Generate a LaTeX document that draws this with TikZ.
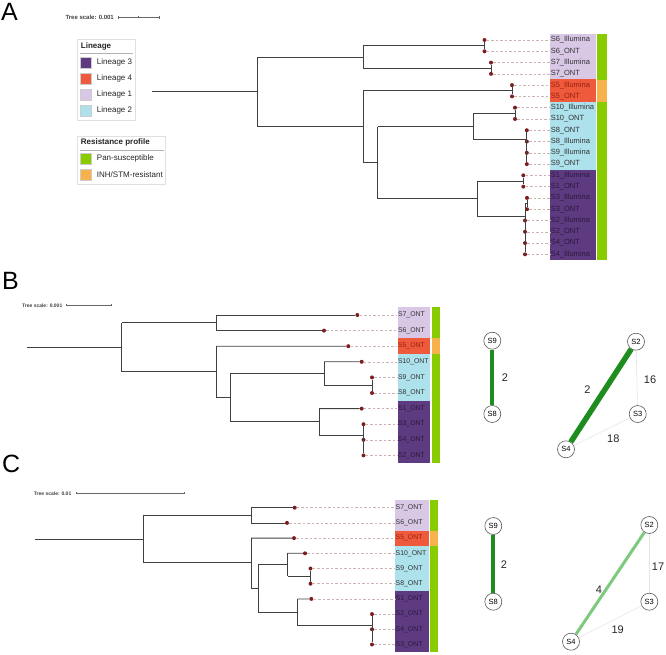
\documentclass[tikz,border=0pt]{standalone}
\usepackage{fontspec}
\setmainfont{Liberation Sans}
\usepackage{tikz}
\usetikzlibrary{positioning}

\definecolor{linone}{RGB}{216,200,230}
\definecolor{lintwo}{RGB}{173,225,236}
\definecolor{linthree}{RGB}{94,58,128}
\definecolor{linfour}{RGB}{240,90,60}
\definecolor{pansus}{RGB}{136,204,0}
\definecolor{inhres}{RGB}{248,178,76}
\definecolor{tipred}{RGB}{122,30,30}
\definecolor{darkgreen}{RGB}{30,140,30}
\definecolor{lightgreen}{RGB}{125,201,125}
\definecolor{dashgrey}{RGB}{205,178,178}
\definecolor{txtthree}{RGB}{45,25,62}
\definecolor{txtfour}{RGB}{150,32,15}

\tikzset{
  branch/.style={draw=black!75, line width=0.8pt},
  tip/.style={circle, fill=tipred, inner sep=0pt, minimum size=4pt},
  leader/.style={draw=dashgrey, line width=0.5pt, dash pattern=on 2.5pt off 2pt},
  leafA/.style={anchor=west, inner xsep=0.6pt, inner ysep=0pt, text width=44.5pt, minimum height=11.28pt, align=left, font=\fontsize{7.5}{8}\selectfont},
  leafB/.style={anchor=west, inner xsep=0.5pt, inner ysep=0pt, text width=31pt, minimum height=15.6pt, align=left, font=\fontsize{6.9}{7}\selectfont},
  leafC/.style={leafB, text width=32.3pt, minimum height=15.2pt},
  scaletxt/.style={anchor=east, inner sep=0pt, text=black!75, font=\bfseries},
  scalebar/.style={draw=black!60, line width=0.5pt},
  legbox/.style={draw=black!12, fill=white, line width=0.6pt},
  legtitle/.style={anchor=west, inner sep=0pt, text=black!85, font=\fontsize{8}{8}\selectfont\bfseries},
  swatch/.style={draw=black!20, line width=0.3pt, minimum size=11pt, inner sep=0pt},
  keytxt/.style={inner sep=0pt, text=black!85, font=\fontsize{8}{8}\selectfont},
  panel/.style={anchor=base west, inner sep=0pt, font=\fontsize{25}{25}\selectfont},
  gnode/.style={circle, draw=black!65, fill=white, line width=0.6pt, minimum size=17pt, inner sep=0pt, font=\fontsize{7.5}{8}\selectfont},
  elab/.style={inner sep=0pt, text=black!85, font=\fontsize{11}{11}\selectfont}
}

\begin{document}
\begin{tikzpicture}[x=1pt, y=-1pt]
\useasboundingbox (0,0) rectangle (666,654);

% panel A
\node[panel] (pa) at (1,20) {A};
\node[scaletxt, font=\fontsize{6}{6}\selectfont\bfseries] (sca) at (114,17.3) {Tree scale: 0.001};
\draw[scalebar] (118.3,17.3) -- (159,17.3);
\draw[scalebar] (118.3,16) -- (118.3,18.6) (138.6,16.3) -- (138.6,18.3) (159,16) -- (159,18.6);

\draw[legbox] (77.3,39.3) rectangle (135,120);
\node[legtitle] (hlin) at (80.7,46) {Lineage};
\draw[black!30, line width=0.6pt] (80,53.3) -- (133,53.3);
\node[swatch, fill=linthree] (k3) at (85.7,62.8) {};
\node[keytxt, right=5.4pt of k3] (k3t) {Lineage 3};
\node[swatch, fill=linfour] (k4) at (85.7,78.8) {};
\node[keytxt, right=5.4pt of k4] (k4t) {Lineage 4};
\node[swatch, fill=linone] (k1) at (85.7,94.6) {};
\node[keytxt, right=5.4pt of k1] (k1t) {Lineage 1};
\node[swatch, fill=lintwo] (k2) at (85.7,110.5) {};
\node[keytxt, right=5.4pt of k2] (k2t) {Lineage 2};

\draw[legbox] (77.3,136) rectangle (165.7,184.3);
\node[legtitle] (hres) at (80.7,142.8) {Resistance profile};
\draw[black!30, line width=0.6pt] (80,150) -- (163.5,150);
\node[swatch, fill=pansus] (kp) at (85.7,158.7) {};
\node[keytxt, right=5.4pt of kp] (kpt) {Pan-susceptible};
\node[swatch, fill=inhres] (ki) at (85.7,174.7) {};
\node[keytxt, right=5.4pt of ki] (kit) {INH/STM-resistant};

\fill[pansus] (596.7,34.36) rectangle (606.7,79.5);
\fill[inhres] (596.7,79.5) rectangle (606.7,102);
\fill[pansus] (596.7,102) rectangle (606.7,259.96);

\foreach \id/\tx/\r/\xx/\fc/\tc in {
  a6i/S6\_Illumina/0/484.5/linone/black!80,
  a6o/S6\_ONT/1/484.5/linone/black!80,
  a7i/S7\_Illumina/2/491/linone/black!80,
  a7o/S7\_ONT/3/491/linone/black!80,
  a5i/S5\_Illumina/4/512/linfour/txtfour,
  a5o/S5\_ONT/5/512/linfour/txtfour,
  a10i/S10\_Illumina/6/515/lintwo/black!80,
  a10o/S10\_ONT/7/515/lintwo/black!80,
  a8o/S8\_ONT/8/526.8/lintwo/black!80,
  a8i/S8\_Illumina/9/526.8/lintwo/black!80,
  a9i/S9\_Illumina/10/526.8/lintwo/black!80,
  a9o/S9\_ONT/11/526.8/lintwo/black!80,
  a1i/S1\_Illumina/12/523.3/linthree/txtthree,
  a1o/S1\_ONT/13/523.3/linthree/txtthree,
  a3i/S3\_Illumina/14/527/linthree/txtthree,
  a3o/S3\_ONT/15/527/linthree/txtthree,
  a2i/S2\_Illumina/16/525/linthree/txtthree,
  a2o/S2\_ONT/17/525/linthree/txtthree,
  a4o/S4\_ONT/18/525/linthree/txtthree,
  a4i/S4\_Illumina/19/525/linthree/txtthree}{
  \pgfmathsetmacro\yy{40+11.28*\r}
  \node[tip] (t\id) at (\xx,\yy) {};
  \node[leafA, fill=\fc, text=\tc] (l\id) at (550,\yy) {\mbox{\tx}};
  \draw[leader] (t\id) -- (l\id.west);
}

\draw[branch] (152,91.8) -- (257,91.8);
\draw[branch] (257,56.9) -- (257,126.7);
\draw[branch] (257,56.9) -- (363,56.9);
\draw[branch] (363,45.64) -- (363,68.2);
\draw[branch] (363,45.64) -- (484.5,45.64);
\draw[branch] (ta6i) -- (ta6o);
\draw[branch] (363,68.2) -- (491,68.2);
\draw[branch] (ta7i) -- (ta7o);
\draw[branch] (257,126.7) -- (363,126.7);
\draw[branch] (363,90.76) -- (363,162.7);
\draw[branch] (363,90.76) -- (512,90.76);
\draw[branch] (ta5i) -- (ta5o);
\draw[branch] (363,162.7) -- (377.7,162.7);
\draw[branch] (377.7,126.7) -- (377.7,198.8);
\draw[branch] (377.7,126.7) -- (473.3,126.7);
\draw[branch] (473.3,113.3) -- (473.3,139.3);
\draw[branch] (473.3,113.3) -- (515,113.3);
\draw[branch] (ta10i) -- (ta10o);
\draw[branch] (473.3,139.3) -- (526.8,139.3);
\draw[branch] (ta8o) -- (ta9o);
\draw[branch] (377.7,198.8) -- (477.7,198.8);
\draw[branch] (477.7,181) -- (477.7,216.7);
\draw[branch] (477.7,181) -- (523.3,181);
\draw[branch] (ta1i) -- (ta1o);
\draw[branch] (477.7,216.7) -- (525,216.7);
\draw[branch] (525,203.56) -- (ta4i);
\draw[branch] (525,203.56) -- (527,203.56);
\draw[branch] (ta3i) -- (ta3o);

% panel B
\node[panel] (pb) at (2,289) {B};
\node[scaletxt, font=\fontsize{5}{5}\selectfont\bfseries] (scb) at (62.5,305.3) {Tree scale: 0.001};
\draw[scalebar] (66.7,305.3) -- (111,305.3);
\draw[scalebar] (66.7,304.3) -- (66.7,306.3) (88.8,304.6) -- (88.8,306) (111,304.3) -- (111,306.3);

\fill[pansus] (431.7,307.2) rectangle (440,338.4);
\fill[inhres] (431.7,338.4) rectangle (440,354);
\fill[pansus] (431.7,354) rectangle (440,463.2);

\foreach \id/\tx/\r/\xx/\fc/\tc in {
  b7/S7\_ONT/0/357.3/linone/black!80,
  b6/S6\_ONT/1/324/linone/black!80,
  b5/S5\_ONT/2/348.3/linfour/txtfour,
  b10/S10\_ONT/3/361.7/lintwo/black!80,
  b9/S9\_ONT/4/372/lintwo/black!80,
  b8/S8\_ONT/5/372/lintwo/black!80,
  b1/S1\_ONT/6/361.7/linthree/txtthree,
  b3/S3\_ONT/7/363.5/linthree/txtthree,
  b4/S4\_ONT/8/363.5/linthree/txtthree,
  b2/S2\_ONT/9/363.5/linthree/txtthree}{
  \pgfmathsetmacro\yy{315+15.6*\r}
  \node[tip] (t\id) at (\xx,\yy) {};
  \node[leafB, fill=\fc, text=\tc] (l\id) at (397.3,\yy) {\mbox{\tx}};
  \draw[leader] (t\id) -- (l\id.west);
}

\draw[branch] (27,347.3) -- (121.7,347.3);
\draw[branch] (121.7,322.8) -- (121.7,371.7);
\draw[branch] (121.7,322.8) -- (216,322.8);
\draw[branch] (216,315) -- (216,330.6);
\draw[branch] (216,315) -- (tb7);
\draw[branch] (216,330.6) -- (tb6);
\draw[branch] (121.7,371.7) -- (216,371.7);
\draw[branch] (216,346.2) -- (216,397.3);
\draw[branch] (216,346.2) -- (tb5);
\draw[branch] (216,397.3) -- (230,397.3);
\draw[branch] (230,373.4) -- (230,421.7);
\draw[branch] (230,373.4) -- (324,373.4);
\draw[branch] (324,361.8) -- (324,385.2);
\draw[branch] (324,361.8) -- (tb10);
\draw[branch] (324,385.2) -- (372,385.2);
\draw[branch] (tb9) -- (tb8);
\draw[branch] (230,421.7) -- (319,421.7);
\draw[branch] (319,408.6) -- (319,435.7);
\draw[branch] (319,408.6) -- (tb1);
\draw[branch] (319,435.7) -- (363.5,435.7);
\draw[branch] (tb3) -- (tb2);

\node[gnode] (b9n) at (492.3,340.7) {S9};
\node[gnode] (b8n) at (492.3,414) {S8};
\draw[darkgreen, line width=4pt] (b9n) -- (b8n);
\node[elab] (b98l) at (505,377.3) {2};

\node[gnode] (b2n) at (636,341.7) {S2};
\node[gnode] (b3n) at (637.7,414) {S3};
\node[gnode] (b4n) at (566,449.3) {S4};
\draw[black!10, line width=0.6pt] (b2n) -- (b3n);
\draw[black!7, line width=0.9pt] (b3n) -- (b4n);
\draw[darkgreen, line width=5.5pt] (b2n) -- (b4n);
\node[elab] (b24l) at (587.3,389.3) {2};
\node[elab] (b23l) at (650,379.3) {16};
\node[elab] (b34l) at (613.3,438.3) {18};

% panel C
\node[panel] (pc) at (2,472.5) {C};
\node[scaletxt, font=\fontsize{5}{5}\selectfont\bfseries] (scc) at (71.5,493.3) {Tree scale: 0.01};
\draw[scalebar] (76,493.3) -- (184.7,493.3);
\draw[scalebar] (76,492.3) -- (76,494.3) (130.3,492.6) -- (130.3,494) (184.7,492.3) -- (184.7,494.3);

\fill[pansus] (430,500.1) rectangle (438.3,530.5);
\fill[inhres] (430,530.5) rectangle (438.3,545.7);
\fill[pansus] (430,545.7) rectangle (438.3,652.1);

\foreach \id/\tx/\r/\xx/\fc/\tc in {
  c7/S7\_ONT/0/294.7/linone/black!80,
  c6/S6\_ONT/1/287/linone/black!80,
  c5/S5\_ONT/2/294/linfour/txtfour,
  c10/S10\_ONT/3/305/lintwo/black!80,
  c9/S9\_ONT/4/310.5/lintwo/black!80,
  c8/S8\_ONT/5/310.5/lintwo/black!80,
  c1/S1\_ONT/6/311.3/linthree/txtthree,
  c2/S2\_ONT/7/372/linthree/txtthree,
  c4/S4\_ONT/8/372/linthree/txtthree,
  c3/S3\_ONT/9/372/linthree/txtthree}{
  \pgfmathsetmacro\yy{507.7+15.2*\r}
  \node[tip] (t\id) at (\xx,\yy) {};
  \node[leafC, fill=\fc, text=\tc] (l\id) at (395,\yy) {\mbox{\tx}};
  \draw[leader] (t\id) -- (l\id.west);
}

\draw[branch] (35,539.3) -- (143,539.3);
\draw[branch] (143,515.3) -- (143,562.7);
\draw[branch] (143,515.3) -- (251,515.3);
\draw[branch] (251,507.7) -- (251,522.9);
\draw[branch] (251,507.7) -- (tc7);
\draw[branch] (251,522.9) -- (tc6);
\draw[branch] (143,562.7) -- (251,562.7);
\draw[branch] (251,538.1) -- (251,588.3);
\draw[branch] (251,538.1) -- (tc5);
\draw[branch] (251,588.3) -- (258.3,588.3);
\draw[branch] (258.3,564.6) -- (258.3,612.3);
\draw[branch] (258.3,564.6) -- (287.7,564.6);
\draw[branch] (287.7,553.3) -- (287.7,576.1);
\draw[branch] (287.7,553.3) -- (tc10);
\draw[branch] (287.7,576.1) -- (310.5,576.1);
\draw[branch] (tc9) -- (tc8);
\draw[branch] (258.3,612.3) -- (297.7,612.3);
\draw[branch] (297.7,598.9) -- (297.7,625.5);
\draw[branch] (297.7,598.9) -- (tc1);
\draw[branch] (297.7,625.5) -- (372,625.5);
\draw[branch] (tc2) -- (tc3);

\node[gnode] (c9n) at (493.3,526) {S9};
\node[gnode] (c8n) at (493.3,601.7) {S8};
\draw[darkgreen, line width=4pt] (c9n) -- (c8n);
\node[elab] (c98l) at (504,565) {2};

\node[gnode] (c2n) at (649.3,525) {S2};
\node[gnode] (c3n) at (649.3,601.7) {S3};
\node[gnode] (c4n) at (571,641.7) {S4};
\draw[black!10, line width=0.6pt] (c2n) -- (c3n);
\draw[black!7, line width=0.9pt] (c3n) -- (c4n);
\draw[lightgreen, line width=3pt] (c2n) -- (c4n);
\node[elab] (c24l) at (599,590) {4};
\node[elab] (c23l) at (658,566.7) {17};
\node[elab] (c34l) at (617.7,630) {19};
\end{tikzpicture}
\end{document}
